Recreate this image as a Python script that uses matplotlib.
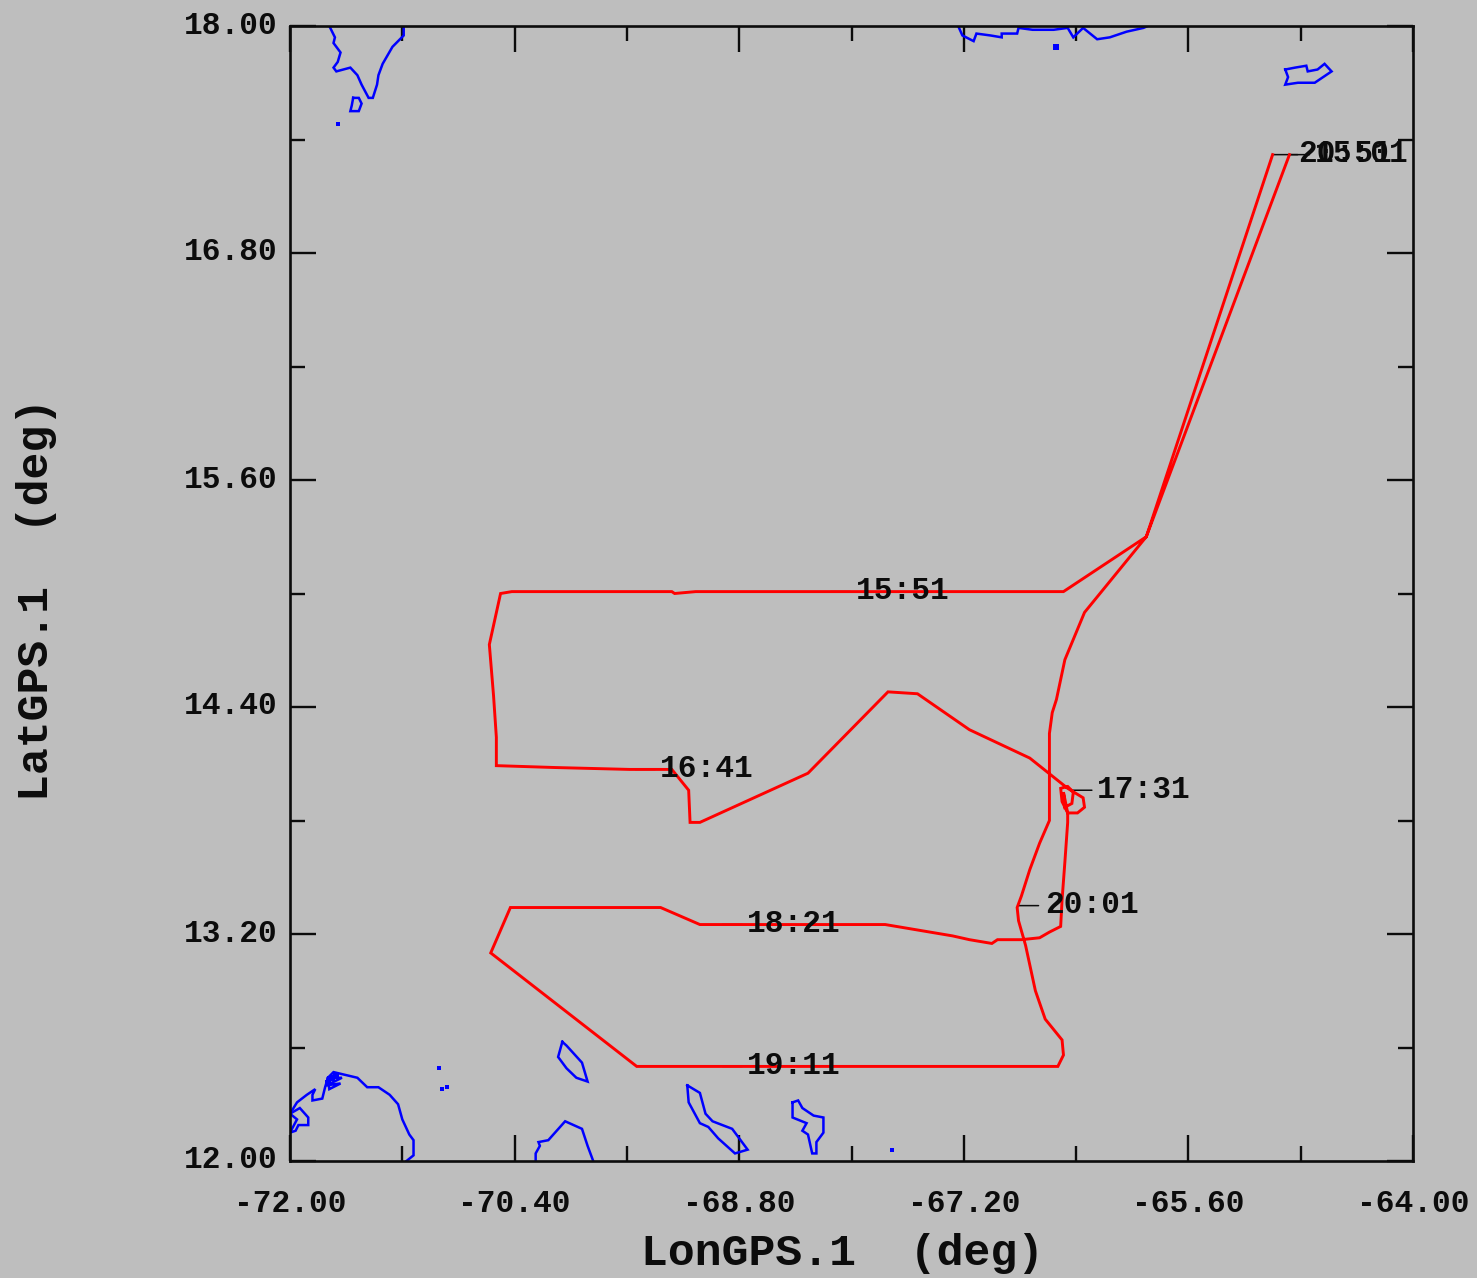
import matplotlib
matplotlib.use("Agg")
import matplotlib.pyplot as plt
from matplotlib.ticker import FixedLocator
from matplotlib.transforms import ScaledTranslation

# ---------- data (deg) ----------
track_lon = [-64.88, -65.90, -66.49, -67.80, -69.11, -69.26, -69.28, -70.42, -70.50, -70.58, -70.55, -70.53, -70.53,
             -70.11, -69.58, -69.28, -69.16, -69.15, -69.08, -68.31, -67.74, -67.53, -67.16, -66.73, -66.46,
             -66.35, -66.34, -66.39, -66.46, -66.50, -66.51, -66.46, -66.42, -66.43, -66.48, -66.49, -66.46,
             -66.46, -66.48, -66.50, -66.51, -66.59, -66.66, -66.79, -66.96, -67.00, -67.16, -67.28, -67.76,
             -69.08, -69.36, -70.43, -70.57, -69.53, -66.53, -66.49, -66.50, -66.62, -66.69, -66.76, -66.81,
             -66.82, -66.79, -66.73, -66.66, -66.59, -66.59, -66.57, -66.54, -66.48, -66.34, -65.90, -65.00]
track_lat = [17.32, 15.30, 15.01, 15.01, 15.01, 15.00, 15.01, 15.01, 15.00, 14.73, 14.46, 14.24, 14.09,
             14.08, 14.07, 14.07, 13.96, 13.79, 13.79, 14.05, 14.48, 14.47, 14.28, 14.13, 13.97,
             13.92, 13.87, 13.84, 13.84, 13.90, 13.97, 13.98, 13.95, 13.89, 13.87, 13.95, 13.84,
             13.79, 13.58, 13.38, 13.24, 13.21, 13.18, 13.17, 13.17, 13.15, 13.17, 13.19, 13.25,
             13.25, 13.34, 13.34, 13.10, 12.50, 12.50, 12.56, 12.64, 12.75, 12.90, 13.14, 13.27,
             13.34, 13.40, 13.54, 13.68, 13.80, 14.26, 14.37, 14.44, 14.65, 14.90, 15.30, 17.32]

time_labels = ["15:01", "15:51", "16:41", "17:31", "18:21", "19:11", "20:01", "20:51"]
time_lon = [-64.88, -68.15, -69.54, -66.43, -68.92, -68.92, -66.81, -65.00]
time_lat = [17.32, 15.01, 14.07, 13.96, 13.25, 12.50, 13.35, 17.32]

coast_hisp_w_lon = [-71.72, -71.68, -71.69, -71.64, -71.66, -71.69, -71.67, -71.57, -71.52, -71.49, -71.44, -71.41,
                    -71.38, -71.37, -71.34, -71.27, -71.19, -71.19]
coast_hisp_w_lat = [18.00, 17.94, 17.91, 17.86, 17.81, 17.78, 17.76, 17.78, 17.74, 17.69, 17.62, 17.62,
                    17.69, 17.74, 17.80, 17.89, 17.95, 18.00]
beata_lon = [-71.55, -71.51, -71.49, -71.51, -71.57, -71.56, -71.55]
beata_lat = [17.62, 17.62, 17.59, 17.55, 17.55, 17.58, 17.62]
coast_pr_lon = [-67.24, -67.21, -67.13, -67.11, -67.01, -66.93, -66.93, -66.82, -66.81, -66.71, -66.56, -66.46,
                -66.42, -66.35, -66.25, -66.16, -66.04, -65.92, -65.89]
coast_pr_lat = [18.00, 17.95, 17.92, 17.96, 17.95, 17.94, 17.96, 17.96, 17.99, 17.98, 17.98, 17.99,
                17.94, 17.99, 17.93, 17.94, 17.97, 17.99, 18.00]
stcroix_lon = [-64.91, -64.84, -64.76, -64.75, -64.68, -64.63, -64.58, -64.70, -64.82, -64.91, -64.89, -64.91]
stcroix_lat = [17.77, 17.78, 17.79, 17.76, 17.77, 17.80, 17.76, 17.70, 17.70, 17.69, 17.73, 17.77]
guajira_lon = [-72.00, -71.95, -71.88, -71.82, -71.84, -71.84, -71.77, -71.75, -71.73, -71.63, -71.74, -71.64,
               -71.72, -71.73, -71.69, -71.52, -71.45, -71.37, -71.29, -71.23, -71.20, -71.15, -71.12, -71.12, -71.17]
guajira_lat = [12.25, 12.31, 12.35, 12.38, 12.35, 12.32, 12.33, 12.39, 12.44, 12.44, 12.40, 12.41,
               12.38, 12.44, 12.47, 12.44, 12.39, 12.39, 12.35, 12.30, 12.22, 12.14, 12.11, 12.03, 12.00]
lagoon_lon = [-72.00, -71.93, -71.87, -71.87, -71.94, -71.96, -72.00, -71.95, -72.00]
lagoon_lat = [12.25, 12.28, 12.23, 12.19, 12.19, 12.16, 12.15, 12.22, 12.25]
paraguana_lon = [-70.25, -70.25, -70.22, -70.23, -70.16, -70.04, -70.01, -69.92, -69.88, -69.84]
paraguana_lat = [12.00, 12.04, 12.08, 12.10, 12.11, 12.21, 12.20, 12.17, 12.08, 12.00]
aruba_lon = [-70.06, -70.03, -69.92, -69.88, -69.96, -70.03, -70.09, -70.06]
aruba_lat = [12.63, 12.61, 12.52, 12.42, 12.44, 12.49, 12.55, 12.63]
curacao_lon = [-69.17, -69.08, -69.04, -68.99, -68.85, -68.81, -68.74, -68.83, -68.95, -69.02, -69.08, -69.16, -69.17]
curacao_lat = [12.40, 12.36, 12.25, 12.21, 12.17, 12.13, 12.06, 12.04, 12.12, 12.18, 12.20, 12.31, 12.40]
bonaire_lon = [-68.42, -68.38, -68.35, -68.27, -68.20, -68.20, -68.25, -68.25, -68.28, -68.31, -68.35, -68.32, -68.42, -68.42]
bonaire_lat = [12.31, 12.32, 12.28, 12.24, 12.23, 12.15, 12.10, 12.04, 12.04, 12.14, 12.16, 12.20, 12.23, 12.31]
dots_lon = [-71.66, -70.94, -70.88, -70.92, -67.71]
dots_lat = [17.48, 12.49, 12.39, 12.38, 12.06]
rock_lon = [-66.54, -71.70, -71.67, -71.73]
rock_lat = [17.89, 12.44, 12.45, 12.41]

x_major = [-72.0, -70.4, -68.8, -67.2, -65.6, -64.0]
x_minor = [-71.2, -69.6, -68.0, -66.4, -64.8]
y_major = [12.0, 13.2, 14.4, 15.6, 16.8, 18.0]
y_minor = [12.6, 13.8, 15.0, 16.2, 17.4]

# ---------- style ----------
BG = "#BEBEBE"
INK = "#0C0C0C"
FONT = "Liberation Mono"
W, H = 1477, 1278

fig = plt.figure(figsize=(W / 100, H / 100), dpi=100, facecolor=BG)
ax = fig.add_axes([290 / W, 1 - 1161 / H, (1413 - 290) / W, (1161 - 26) / H], facecolor=BG)
ax.set_xlim(-72, -64)
ax.set_ylim(12, 18)

coasts = [(coast_hisp_w_lon, coast_hisp_w_lat), (beata_lon, beata_lat), (coast_pr_lon, coast_pr_lat),
          (stcroix_lon, stcroix_lat), (guajira_lon, guajira_lat), (lagoon_lon, lagoon_lat),
          (paraguana_lon, paraguana_lat), (aruba_lon, aruba_lat), (curacao_lon, curacao_lat),
          (bonaire_lon, bonaire_lat)]
for lon, lat in coasts:
    ax.plot(lon, lat, color="#0000FF", lw=1.8, solid_joinstyle="miter", zorder=2)
ax.plot(dots_lon, dots_lat, ls="none", marker="s", ms=2.2, mew=0, color="#0000FF", zorder=2)
ax.plot(rock_lon, rock_lat, ls="none", marker="s", ms=4.5, mew=0, color="#0000FF", zorder=2)

for lab, lon, lat in zip(time_labels, time_lon, time_lat):
    ax.annotate("", xy=(lon, lat), xytext=(20 if lab != "20:51" else 25, 0), textcoords="offset pixels",
                arrowprops=dict(arrowstyle="-", color=INK, lw=1.1, shrinkA=0, shrinkB=0), zorder=3)
    dx = 27 if lab == "20:01" else 25
    ax.annotate(lab, xy=(lon, lat), xytext=(dx, 4), textcoords="offset pixels", ha="left", va="center_baseline",
                family=FONT, weight="bold", fontsize=22.5, color=INK, zorder=5)

ax.plot(track_lon, track_lat, color="#FF0000", lw=2.1, solid_joinstyle="miter", zorder=4)

ax.xaxis.set_major_locator(FixedLocator(x_major))
ax.xaxis.set_minor_locator(FixedLocator(x_minor))
ax.yaxis.set_major_locator(FixedLocator(y_major))
ax.yaxis.set_minor_locator(FixedLocator(y_minor))
ax.set_xticklabels([f"{v:.2f}" for v in x_major])
ax.set_yticklabels([f"{v:.2f}" for v in y_major])
ax.tick_params(which="both", direction="in", top=True, right=True, color=INK, width=1.7)
ax.tick_params(which="major", length=19)
ax.tick_params(which="minor", length=11)
ax.tick_params(axis="x", which="major", pad=20)
ax.tick_params(axis="y", which="major", pad=9)
up = ScaledTranslation(0, 4 / 100, fig.dpi_scale_trans)
for t in ax.get_xticklabels() + ax.get_yticklabels():
    t.set_fontfamily(FONT)
    t.set_fontweight("bold")
    t.set_fontsize(22.5)
    t.set_color(INK)
for t in ax.get_yticklabels():
    t.set_transform(t.get_transform() + up)
for s in ax.spines.values():
    s.set_linewidth(1.9)
    s.set_color(INK)

ax.set_xlabel("LonGPS.1  (deg)", family=FONT, weight="bold", fontsize=32.2, color=INK, va="center")
ax.set_ylabel("LatGPS.1  (deg)", family=FONT, weight="bold", fontsize=32.2, color=INK, va="center")
ax.xaxis.set_label_coords((843 - 290) / 1123, (1161 - 1253) / 1135)
ax.yaxis.set_label_coords((37 - 290) / 1123, (1161 - 599) / 1135)

fig.savefig("out.png", dpi=100, facecolor=BG)
